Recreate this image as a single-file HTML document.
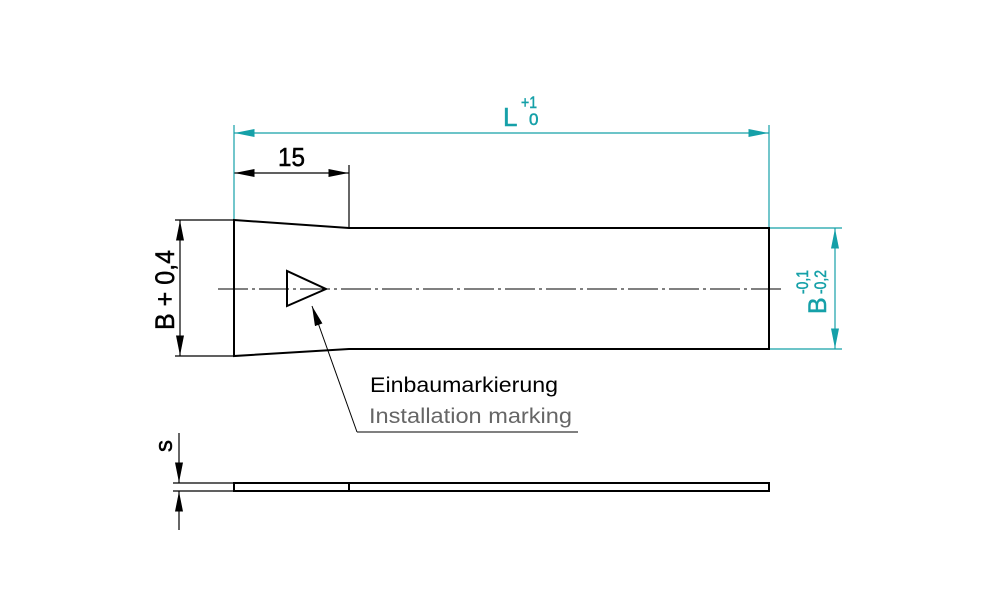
<!DOCTYPE html>
<html><head><meta charset="utf-8"><style>html,body{margin:0;padding:0;background:#fff}svg{display:block}</style></head>
<body>
<svg width="1000" height="600" xmlns="http://www.w3.org/2000/svg" font-family="Liberation Sans, sans-serif">
<defs>
<marker id="ak" markerWidth="20" markerHeight="8" refX="20" refY="4" orient="auto" markerUnits="userSpaceOnUse"><path d="M0,0 L20,4 L0,8 z" fill="#000"/></marker>
<marker id="ar" markerWidth="20" markerHeight="8" refX="20" refY="4" orient="auto-start-reverse" markerUnits="userSpaceOnUse"><path d="M0,0 L20,4 L0,8 z" fill="#000"/></marker>
<marker id="at" markerWidth="20" markerHeight="8" refX="20" refY="4" orient="auto" markerUnits="userSpaceOnUse"><path d="M0,0 L20,4 L0,8 z" fill="#15a0a8"/></marker>
</defs>
<g stroke="#15a0a8" stroke-width="1.2" fill="none">
<line x1="234" y1="125" x2="234" y2="220"/>
<line x1="769" y1="125" x2="769" y2="228"/>
<line x1="400" y1="133" x2="234.5" y2="133" marker-end="url(#at)"/>
<line x1="400" y1="133" x2="768.5" y2="133" marker-end="url(#at)"/>
<line x1="769" y1="228" x2="842" y2="228"/>
<line x1="769" y1="349" x2="842" y2="349"/>
<line x1="835" y1="290" x2="835" y2="228.5" marker-end="url(#at)"/>
<line x1="835" y1="290" x2="835" y2="348.5" marker-end="url(#at)"/>
</g>
<g fill="#15a0a8" stroke="#15a0a8" stroke-width="0.5">
<text x="503" y="126" font-size="26">L</text>
<text x="521" y="108" font-size="17" textLength="16" lengthAdjust="spacingAndGlyphs">+1</text>
<text x="529" y="125" font-size="17">0</text>
<g transform="translate(826,314) rotate(-90)">
<text x="0" y="0" font-size="25">B</text>
<text x="20" y="-18" font-size="17" textLength="24" lengthAdjust="spacingAndGlyphs">-0,1</text>
<text x="20" y="0" font-size="17" textLength="24" lengthAdjust="spacingAndGlyphs">-0,2</text>
</g>
</g>
<g stroke="#000" stroke-width="1.2" fill="none">
<line x1="349" y1="165" x2="349" y2="228"/>
<line x1="290" y1="173" x2="234.5" y2="173" marker-end="url(#ak)"/>
<line x1="290" y1="173" x2="348.5" y2="173" marker-end="url(#ak)"/>
<line x1="175" y1="220" x2="234" y2="220"/>
<line x1="175" y1="356" x2="234" y2="356"/>
<line x1="180" y1="288" x2="180" y2="220.5" marker-end="url(#ak)"/>
<line x1="180" y1="288" x2="180" y2="355.5" marker-end="url(#ak)"/>
<line x1="218" y1="289" x2="785" y2="289" stroke-dasharray="30,4,3,4" stroke-width="1"/>
<line x1="312" y1="306" x2="357" y2="432" marker-start="url(#ar)" stroke-width="1"/>
<line x1="357" y1="432" x2="578" y2="432" stroke-width="1"/>
<line x1="173" y1="483" x2="234" y2="483"/>
<line x1="173" y1="491" x2="234" y2="491"/>
<line x1="179" y1="433" x2="179" y2="482.5" marker-end="url(#ak)"/>
<line x1="179" y1="530" x2="179" y2="491.5" marker-end="url(#ak)"/>
</g>
<g stroke="#000" stroke-width="2" fill="none" stroke-linejoin="miter">
<path d="M234,220 L349,228 L769,228 L769,349 L349,349 L234,356 Z"/>
<path d="M287,271 L287,306 L326,289 Z"/>
<rect x="234" y="483" width="535" height="8"/>
<line x1="349" y1="483" x2="349" y2="491"/>
</g>
<g fill="#000" stroke="#000" stroke-width="0.5">
<text x="278" y="166" font-size="26" textLength="27" lengthAdjust="spacingAndGlyphs">15</text>
<text transform="translate(174,330) rotate(-90)" font-size="27" textLength="80" lengthAdjust="spacingAndGlyphs">B + 0,4</text>
<text transform="translate(172,452) rotate(-90)" font-size="24">s</text>
</g>
<text x="370" y="392" font-size="21" fill="#000" textLength="188" lengthAdjust="spacingAndGlyphs">Einbaumarkierung</text>
<text x="369" y="423" font-size="21" fill="#666" textLength="203" lengthAdjust="spacingAndGlyphs">Installation marking</text>
</svg>
</body></html>
